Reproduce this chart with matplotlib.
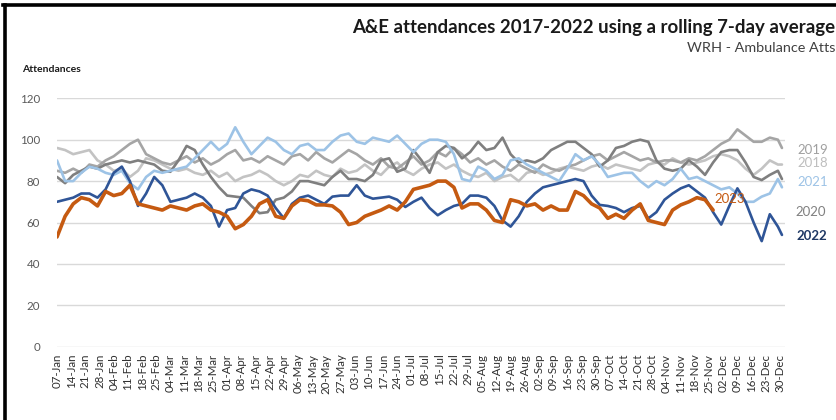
import matplotlib
matplotlib.use("Agg")
import matplotlib.pyplot as plt
import matplotlib.dates as mdates
from matplotlib.lines import Line2D
import pandas as pd
import numpy as np

# ---------------- data (rolling 7-day average, sampled every 4 days) ----------------
START = "2023-01-07"
END_FULL = "2023-12-31"

y2018 = [96, 95, 93, 94, 95, 90, 88, 85, 86, 82, 85, 91, 90, 88, 86, 85, 86, 84, 83, 85,
         82, 84, 80, 82, 83, 85, 83, 80, 78, 80, 83, 82, 85, 83, 82, 86, 84, 85, 88, 85,
         83, 87, 89, 85, 83, 86, 88, 89, 86, 88, 85, 83, 82, 84, 80, 82, 83, 80, 84, 85,
         83, 84, 86, 87, 86, 85, 87, 88, 86, 88, 87, 86, 85, 88, 89, 88, 91, 89, 88, 89,
         90, 92, 93, 92, 90, 86, 83, 86, 90, 88, 88]
y2019 = [85, 84, 86, 84, 88, 87, 90, 92, 95, 98, 100, 93, 91, 89, 88, 90, 92, 89, 91, 88,
         90, 93, 95, 90, 91, 89, 92, 90, 88, 92, 93, 90, 94, 91, 89, 92, 95, 93, 90, 88,
         91, 87, 86, 89, 92, 88, 90, 94, 92, 96, 93, 89, 91, 88, 90, 87, 85, 88, 86, 84,
         88, 86, 85, 87, 88, 90, 92, 93, 90, 92, 94, 92, 90, 91, 89, 90, 90, 89, 91, 90,
         92, 95, 98, 100, 105, 102, 99, 99, 101, 100, 96]
y2020 = [82, 79, 83, 85, 87, 86, 88, 89, 90, 89, 90, 89, 88, 85, 84.5, 90, 97, 95, 88, 82,
         77, 73, 72.5, 72, 68, 64.5, 65, 71, 72, 75, 80, 80, 79, 78, 82, 85, 81, 81, 80, 83,
         90, 91, 84.5, 86, 95, 90, 84, 94, 97, 96, 91, 94, 99, 95, 96, 101, 93, 89, 90, 89,
         91, 95, 97, 99, 99, 96, 93, 87, 90, 96, 97, 99, 100, 99, 90, 86, 85, 86, 90, 87,
         83, 89, 94, 95, 95, 89, 82, 80.5, 83, 85, 81]
y2021 = [90, 80, 80, 84, 87, 86, 84, 83, 85, 79, 76, 82, 85, 84, 85, 86, 87, 91, 95, 99,
         95, 98, 106, 99, 93, 97, 101, 99, 95, 93, 97, 98, 95, 95, 99, 102, 103, 99, 98, 101,
         100, 99, 102, 98, 94, 98, 100, 100, 99, 93, 81, 80, 87, 85, 81, 83, 90, 91, 88, 86,
         84, 82, 80, 86, 93, 90, 92, 88, 82, 83, 84, 84, 80, 77, 80, 78, 81, 86, 81, 82,
         80, 78, 76, 77, 74, 70, 70, 72.5, 74, 81, 77]
y2022 = [70, 71, 72, 74, 74, 72, 76, 84, 87, 80, 68, 74, 82, 78, 70, 71, 72, 74, 72, 68,
         58, 66, 67, 74, 76, 75, 73, 67, 62, 69, 72, 73, 71, 69, 72.5, 73, 73, 78, 73, 71.5,
         72, 72.5, 71, 67.5, 70, 72, 67, 63.5, 66, 68, 69, 73, 73, 72, 68, 61, 58, 63, 70, 74,
         77, 78, 79, 80, 81, 80, 73, 68.5, 68, 67, 65, 67, 68, 62, 65, 71, 74, 76.5, 78, 75,
         72, 65, 59, 68, 76.5, 70, 60, 51, 64, 58, 54]
y2023 = [53, 63, 69, 72, 71, 68, 75, 73, 74, 78, 69, 68, 67, 66, 68, 67, 66, 68, 69, 66,
         65, 63, 57, 59, 63, 69, 71, 63, 62, 68, 71, 70.5, 68.5, 68.5, 68, 65, 59, 60, 63, 64.5,
         66, 68, 66, 70, 76, 77, 78, 80, 80, 77, 67, 69, 69, 66, 61, 60, 71, 70, 68, 69,
         66, 68, 66, 66, 75, 73, 69, 67, 62, 64, 62, 66, 69, 61, 60, 59, 66, 68.5, 70, 72,
         71, 66]

series_names = ["2018", "2019", "2020", "2021", "2022", "2023"]
series_vals = [y2018, y2019, y2020, y2021, y2022, y2023]
series_colors = ["#C3C3C3", "#A5A5A5", "#7F7F7F", "#9DC3E6", "#2F5597", "#C55A11"]
series_widths = [1.9, 1.9, 1.9, 1.9, 1.9, 2.6]

yticks = [0, 20, 40, 60, 80, 100, 120]
title = "A&E attendances 2017-2022 using a rolling 7-day average"
subtitle = "WRH - Ambulance Atts"
ylabel = "Attendances"

# end-of-line labels: text, colour, bold, pixel x, pixel y (centre)
end_labels = [("2019", "#A0A0A0", False, 797, 150),
              ("2018", "#BEBEBE", False, 797, 163),
              ("2021", "#9DC3E6", False, 797, 182),
              ("2023", "#C55A11", False, 714, 199),
              ("2020", "#808080", False, 795, 212),
              ("2022", "#1F3864", True, 796, 236)]

# ---------------- x positions ----------------
base_dates = list(pd.date_range(START, "2023-12-30", freq="4D"))
full_dates = base_dates + [pd.Timestamp(END_FULL)]
tick_dates = pd.date_range(START, "2023-12-30", freq="7D")
tick_labels = [d.strftime("%d-%b") for d in tick_dates]

plt.rcParams["font.family"] = ["Lato", "DejaVu Sans"]

W, H = 837, 420
fig = plt.figure(figsize=(W / 100, H / 100), dpi=100)
fig.patch.set_facecolor("white")

def fx(px):
    return px / W

def fy(py):
    return 1 - py / H

ax = fig.add_axes([fx(56.6), fy(346.7), fx(785) - fx(56.6), fy(98.3) - fy(346.7)])

for name, vals, col, lw in zip(series_names, series_vals, series_colors, series_widths):
    xs = mdates.date2num(full_dates[:len(vals)])
    ax.plot(xs, vals, color=col, lw=lw, solid_joinstyle="round", solid_capstyle="round", zorder=3)

x0 = mdates.date2num(pd.Timestamp(START))
ax.set_xlim(x0 - 0.2, x0 + 359.5)
ax.set_ylim(0, 120)
ax.set_yticks(yticks)
ax.set_xticks(mdates.date2num(tick_dates))
ax.set_xticklabels(tick_labels, rotation=90, fontsize=8.3, color="#303030")
ax.tick_params(axis="x", length=0, pad=5)
ax.tick_params(axis="y", length=0, pad=12, labelsize=8.3, labelcolor="#595959")
ax.grid(axis="y", color="#D9D9D9", lw=1.0)
ax.set_axisbelow(True)
for s in ax.spines.values():
    s.set_visible(False)

# text
fig.text(fx(835.5), fy(28), title, ha="right", va="center", fontsize=13.4,
         fontweight="bold", color="#1A1A1A")
fig.text(fx(835.5), fy(48), subtitle, ha="right", va="center", fontsize=10.4, color="#404040")
fig.text(fx(22), fy(70), ylabel, ha="left", va="center", fontsize=7.5,
         fontweight="bold", color="#1A1A1A")

for txt, col, bold, px, py in end_labels:
    fig.text(fx(px), fy(py), txt, ha="left", va="center", fontsize=9.5, color=col,
             fontweight="bold" if bold else "normal")

# black frame on left and top
fig.add_artist(Line2D([fx(5), fx(5)], [0, fy(4.5)], color="black", lw=2.6, transform=fig.transFigure))
fig.add_artist(Line2D([fx(3.5), 1], [fy(4.5), fy(4.5)], color="black", lw=2.6, transform=fig.transFigure))

fig.savefig("out.png", dpi=100)
